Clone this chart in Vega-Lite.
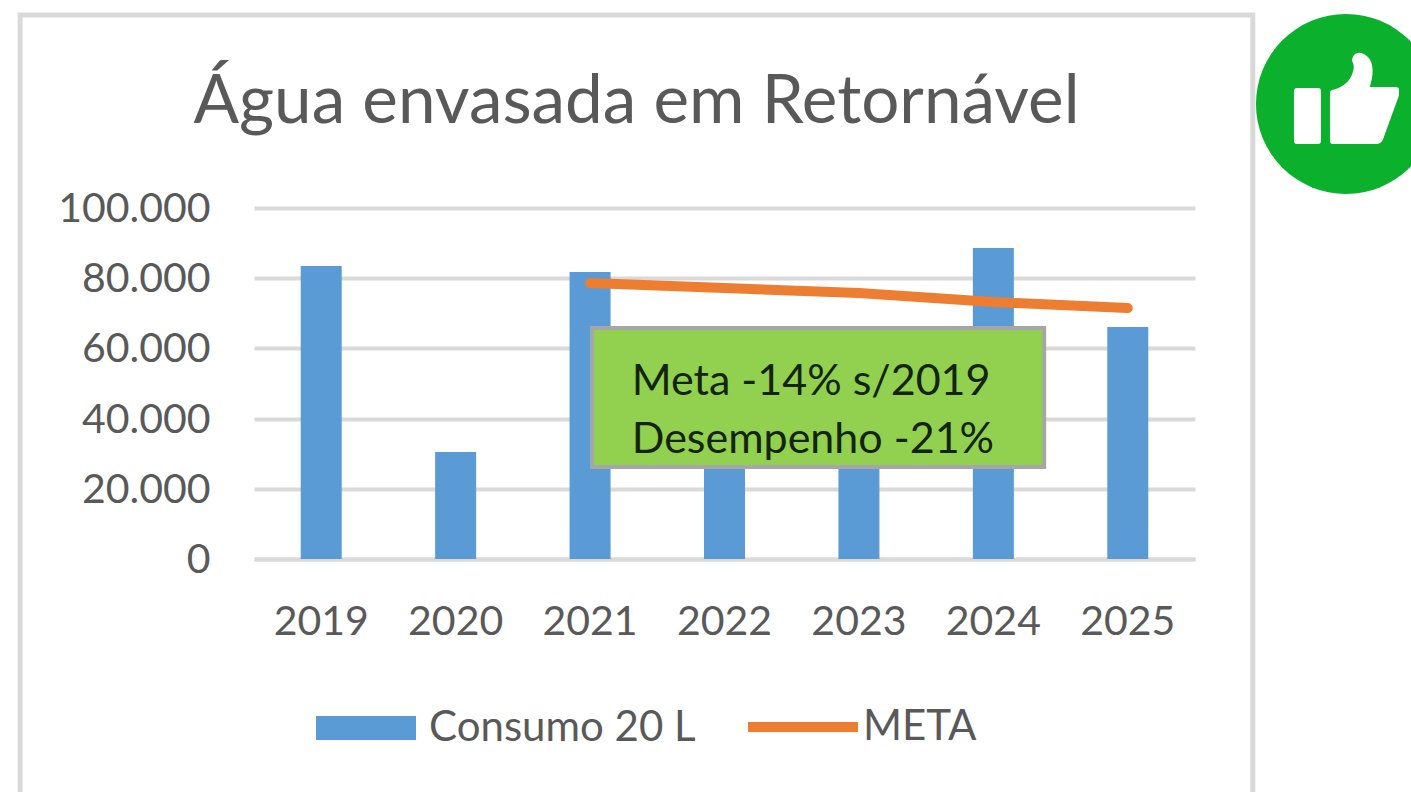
{
"$schema":"https://vega.github.io/schema/vega-lite/v6.json",
"width":941,"height":351,
"autosize":{"type":"none"},
"padding":{"left":254,"top":208,"right":216,"bottom":233},
"background":"white",
"title":{"text":"Água envasada em Retornável","font":"Lato","fontSize":67.4,"fontWeight":"normal","color":"#595959","anchor":"middle","frame":"group","dx":-88,"offset":-125},
"config":{"view":{"stroke":null},"font":"Lato"},
"datasets":{
"series":[
{"ano":"2019","consumo":83500},
{"ano":"2020","consumo":30500},
{"ano":"2021","consumo":81800,"meta":78600},
{"ano":"2022","consumo":55000,"meta":77200},
{"ano":"2023","consumo":58000,"meta":75800},
{"ano":"2024","consumo":88600,"meta":73200},
{"ano":"2025","consumo":66100,"meta":71500}
],
"frame":[{"x":-1.74,"x2":7.43,"y":155000,"y2":-72000}],
"box":[{"x":2.515,"x2":5.878,"y":65800,"y2":26200}],
"boxText":[
{"x":2.81,"y":46700,"t":"Meta -14% s/2019"},
{"x":2.81,"y":30200,"t":"Desempenho -21%"}
],
"badge":[{"x":8.123,"y":129630}]
},
"resolve":{"scale":{"x":"independent"}},
"layer":[
{"data":{"name":"series"},
 "transform":[{"calculate":"'Consumo 20 L'","as":"serie"}],
 "mark":{"type":"bar","width":41},
 "encoding":{
  "x":{"field":"ano","type":"nominal","sort":null,"scale":{"paddingInner":0,"paddingOuter":0},
   "axis":{"title":null,"labelAngle":0,"labelFontSize":41,"labelFont":"Lato","labelColor":"#595959","labelPadding":43,"ticks":false,"domainColor":"#D9D9D9","domainWidth":4,"grid":false}},
  "y":{"field":"consumo","type":"quantitative","scale":{"domain":[0,100000],"nice":false},
   "axis":{"title":null,"values":[0,20000,40000,60000,80000,100000],"labelExpr":"replace(format(datum.value,','),',','.')","labelFontSize":41,"labelFont":"Lato","labelColor":"#595959","labelPadding":44,"labelOffset":1.5,"ticks":false,"domain":false,"grid":true,"gridColor":"#D9D9D9","gridWidth":4}},
  "fill":{"field":"serie","type":"nominal","scale":{"range":["#5B9BD5"]},
   "legend":{"orient":"none","legendX":62,"legendY":470,"title":null,"symbolType":"M-1,-0.24H1V0.24H-1Z","symbolSize":10000,"labelFontSize":42,"labelFont":"Lato","labelColor":"#595959","labelOffset":13,"labelLimit":400,"symbolStrokeWidth":0}}
 }},
{"data":{"name":"series"},
 "transform":[{"filter":"isValid(datum.meta)"},{"calculate":"'META'","as":"serie"}],
 "mark":{"type":"line","strokeWidth":10,"strokeCap":"round"},
 "encoding":{
  "x":{"field":"ano","type":"nominal","sort":null,"scale":{"domain":["2019","2020","2021","2022","2023","2024","2025"],"paddingInner":1,"paddingOuter":0.5},"axis":null},
  "y":{"field":"meta","type":"quantitative"},
  "stroke":{"field":"serie","type":"nominal","scale":{"range":["#ED7D31"]},
   "legend":{"orient":"none","legendX":489,"legendY":459,"title":null,"symbolType":"M-1,0H1","symbolSize":12100,"symbolStrokeWidth":10,"labelFontSize":42,"labelFont":"Lato","labelColor":"#595959","labelOffset":0,"labelLimit":400}}
 }},
{"data":{"name":"box"},
 "mark":{"type":"rect","fill":"#92D050","stroke":"#A6A6A6","strokeWidth":4},
 "encoding":{
  "x":{"field":"x","type":"quantitative","scale":{"domain":[0,7],"nice":false,"zero":false},"axis":null},
  "x2":{"field":"x2"},
  "y":{"field":"y","type":"quantitative"},
  "y2":{"field":"y2"}
 }},
{"data":{"name":"boxText"},
 "mark":{"type":"text","align":"left","baseline":"alphabetic","font":"Lato","fontSize":43,"color":"#14240A"},
 "encoding":{
  "x":{"field":"x","type":"quantitative","scale":{"domain":[0,7],"nice":false,"zero":false},"axis":null},
  "y":{"field":"y","type":"quantitative"},
  "text":{"field":"t","type":"nominal"}
 }},
{"data":{"name":"frame"},
 "mark":{"type":"rect","fill":"transparent","stroke":"#D9D9D9","strokeWidth":5},
 "encoding":{
  "x":{"field":"x","type":"quantitative","scale":{"domain":[0,7],"nice":false,"zero":false},"axis":null},
  "x2":{"field":"x2"},
  "y":{"field":"y","type":"quantitative"},
  "y2":{"field":"y2"}
 }},
{"data":{"name":"badge"},
 "mark":{"type":"point","shape":"circle","filled":true,"opacity":1,"color":"#0BB02C","size":32400},
 "encoding":{
  "x":{"field":"x","type":"quantitative","scale":{"domain":[0,7],"nice":false,"zero":false},"axis":null},
  "y":{"field":"y","type":"quantitative"}
 }},
{"data":{"name":"badge"},
 "mark":{"type":"point","shape":"M-0.49,-0.13H-0.28V0.37H-0.49Z M-0.13,0.37L-0.13,-0.11Q0.06,-0.16 0.10,-0.32Q0.12,-0.38 0.09,-0.44Q0.10,-0.49 0.15,-0.48Q0.26,-0.44 0.23,-0.26L0.20,-0.14L0.50,-0.14L0.50,-0.09L0.34,0.35Q0.33,0.37 0.30,0.37Z","filled":true,"opacity":1,"color":"white","stroke":"white","strokeWidth":6,"strokeJoin":"round","size":40000},
 "encoding":{
  "x":{"field":"x","type":"quantitative","scale":{"domain":[0,7],"nice":false,"zero":false},"axis":null},
  "y":{"field":"y","type":"quantitative"}
 }}
]
}
